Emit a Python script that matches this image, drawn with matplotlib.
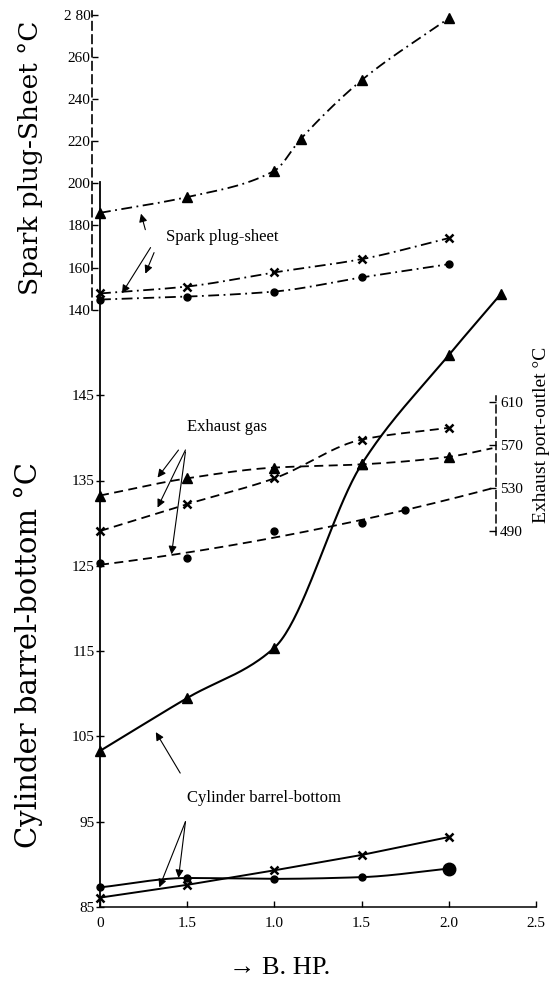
import numpy as np
import matplotlib
matplotlib.use("Agg")
import matplotlib.pyplot as plt

plt.rcParams["font.family"] = ["Liberation Serif", "DejaVu Serif"]

# B.HP tick labels as printed (the 0.5 position is printed "1.5")
X_TICKS = [0, 0.5, 1.0, 1.5, 2.0, 2.5]
X_TICK_LABELS = ["0", "1.5", "1.0", "1.5", "2.0", "2.5"]

# spark plug-sheet (left dashed scale)
SP_TRI_X = [0, 0.5, 1.0, 1.15, 1.5, 2.0]
SP_TRI_Y = [186, 193.5, 206, 221, 249, 278.5]
SP_CRS_X = [0, 0.5, 1.0, 1.5, 2.0]
SP_CRS_Y = [147.7, 151.0, 157.7, 164.0, 174.0]
SP_DOT_X = [0, 0.5, 1.0, 1.5, 2.0]
SP_DOT_Y = [144.8, 146.2, 148.6, 155.3, 161.6]
SP_TICKS = [140, 160, 180, 200, 220, 240, 260, 280]

# exhaust gas (right scale, exhaust port-outlet)
EX_TRI_X = [0, 0.5, 1.0, 1.5, 2.0]
EX_TRI_Y = [523, 539, 549, 552, 559]
EX_TRI_END = (2.25, 567)
EX_CRS_X = [0, 0.5, 1.0, 1.5, 2.0]
EX_CRS_Y = [490, 515, 539, 575, 586]
EX_DOT_X = [0, 0.5, 1.0, 1.5, 1.75]
EX_DOT_Y = [460, 465, 490, 497, 510]
EX_DOT_END = (2.25, 530)
EX_TICKS = [490, 530, 570, 610]

# cylinder barrel-bottom (left solid scale)
CY_TRI_X = [0, 0.5, 1.0, 1.5, 2.0, 2.3]
CY_TRI_Y = [103.3, 109.5, 115.4, 136.9, 149.7, 156.9]
CY_CRS_X = [0, 0.5, 1.0, 1.5, 2.0]
CY_CRS_Y = [86.1, 87.6, 89.3, 91.1, 93.2]
CY_DOT_X = [0, 0.5, 1.0, 1.5, 2.0]
CY_DOT_Y = [87.3, 88.4, 88.3, 88.5, 89.5]
CY_TICKS = [85, 95, 105, 115, 125, 135, 145]


def pchip(x, y, n=200):
    # monotone cubic through the points (hand-drawn looking curve)
    x = np.asarray(x, float)
    y = np.asarray(y, float)
    h = np.diff(x)
    d = np.diff(y) / h
    m = np.zeros_like(y)
    m[0], m[-1] = d[0], d[-1]
    for k in range(1, len(x) - 1):
        if d[k - 1] * d[k] > 0:
            w1 = 2 * h[k] + h[k - 1]
            w2 = h[k] + 2 * h[k - 1]
            m[k] = (w1 + w2) / (w1 / d[k - 1] + w2 / d[k])
    xs = np.linspace(x[0], x[-1], n)
    i = np.clip(np.searchsorted(x, xs) - 1, 0, len(x) - 2)
    t = (xs - x[i]) / h[i]
    h00 = 2 * t**3 - 3 * t**2 + 1
    h10 = t**3 - 2 * t**2 + t
    h01 = -2 * t**3 + 3 * t**2
    h11 = t**3 - t**2
    ys = h00 * y[i] + h10 * h[i] * m[i] + h01 * y[i + 1] + h11 * h[i] * m[i + 1]
    return xs, ys


DASHDOT = (0, (6, 2.5, 1, 2.5))
DASHED = (0, (5, 3))
LW = 1.3

fig = plt.figure(figsize=(5.55, 9.82), dpi=100)
rect = [100 / 555, 75 / 982, 436 / 555, 897 / 982]
ax = fig.add_axes(rect)
ax_sp = fig.add_axes(rect, sharex=ax)
ax_ex = fig.add_axes(rect, sharex=ax)
for a in (ax_sp, ax_ex):
    a.patch.set_visible(False)

ax.set_xlim(0, 2.5)
ax.set_ylim(85, 85 + 897 / 8.53)
ax_sp.set_ylim(140 - 598 / 2.107, 280 + 5 / 2.107)
ax_ex.set_ylim(490 - 376 / 1.075, 610 + 392 / 1.075)

# cylinder axes: left solid + bottom
for s in ("top", "right"):
    ax.spines[s].set_visible(False)
ax.spines["left"].set_bounds(85, 170)
ax.spines["bottom"].set_bounds(0, 2.5)
ax.spines["left"].set_linewidth(1.3)
ax.spines["bottom"].set_linewidth(1.1)
ax.set_yticks(CY_TICKS)
ax.set_yticklabels([str(t) for t in CY_TICKS])
ax.set_xticks(X_TICKS)
ax.set_xticklabels(X_TICK_LABELS)
ax.tick_params(axis="y", direction="inout", length=6, width=1, labelsize=11, pad=1)
ax.tick_params(axis="x", direction="in", length=4, width=1, labelsize=11, pad=7)

# spark axes: dashed left scale
for s in ("top", "right", "bottom"):
    ax_sp.spines[s].set_visible(False)
ax_sp.spines["left"].set_position(("outward", 6))
ax_sp.spines["left"].set_bounds(140, 282)
ax_sp.spines["left"].set_linestyle((0, (5, 3)))
ax_sp.spines["left"].set_linewidth(1.2)
ax_sp.set_yticks(SP_TICKS)
ax_sp.set_yticklabels(["2 80" if t == 280 else str(t) for t in SP_TICKS])
ax_sp.tick_params(axis="y", direction="in", length=4, width=1, labelsize=11, pad=1)
ax_sp.tick_params(axis="x", bottom=False, labelbottom=False)

# exhaust axes: dashed right scale
for s in ("top", "left", "bottom"):
    ax_ex.spines[s].set_visible(False)
ax_ex.spines["right"].set_position(("data", 2.27))
ax_ex.spines["right"].set_bounds(486, 616)
ax_ex.spines["right"].set_linestyle((0, (5, 3)))
ax_ex.spines["right"].set_linewidth(1.1)
ax_ex.yaxis.set_ticks_position("right")
ax_ex.set_yticks(EX_TICKS)
ax_ex.tick_params(axis="y", direction="in", length=5, width=1, labelsize=11, pad=3)
ax_ex.tick_params(axis="x", bottom=False, labelbottom=False)

# spark plug-sheet curves
for xs, ys in [(SP_TRI_X, SP_TRI_Y), (SP_CRS_X, SP_CRS_Y), (SP_DOT_X, SP_DOT_Y)]:
    cx, cy = pchip(xs, ys)
    ax_sp.plot(cx, cy, color="black", lw=LW, ls=DASHDOT, clip_on=False)
ax_sp.plot(SP_TRI_X, SP_TRI_Y, "^", color="black", ms=6.5, ls="none", clip_on=False)
ax_sp.plot(SP_CRS_X, SP_CRS_Y, "x", color="black", ms=6, mew=1.8, ls="none", clip_on=False)
ax_sp.plot(SP_DOT_X, SP_DOT_Y, "o", color="black", ms=5, ls="none", clip_on=False)

# exhaust gas curves
cx, cy = pchip(EX_TRI_X + [EX_TRI_END[0]], EX_TRI_Y + [EX_TRI_END[1]])
ax_ex.plot(cx, cy, color="black", lw=LW, ls=DASHED)
cx, cy = pchip(EX_CRS_X, EX_CRS_Y)
ax_ex.plot(cx, cy, color="black", lw=LW, ls=DASHED)
fit = np.polyfit(EX_DOT_X + [EX_DOT_END[0]], EX_DOT_Y + [EX_DOT_END[1]], 2)
cx = np.linspace(0, EX_DOT_END[0], 200)
ax_ex.plot(cx, np.polyval(fit, cx), color="black", lw=LW, ls=DASHED)
ax_ex.plot(EX_TRI_X, EX_TRI_Y, "^", color="black", ms=6.5, ls="none", clip_on=False)
ax_ex.plot(EX_CRS_X, EX_CRS_Y, "x", color="black", ms=6, mew=1.8, ls="none", clip_on=False)
ax_ex.plot(EX_DOT_X, EX_DOT_Y, "o", color="black", ms=5, ls="none", clip_on=False)

# cylinder barrel-bottom curves
cx, cy = pchip(CY_TRI_X, CY_TRI_Y)
ax.plot(cx, cy, color="black", lw=1.5)
ax.plot(CY_CRS_X, CY_CRS_Y, color="black", lw=1.4)
cx, cy = pchip(CY_DOT_X, CY_DOT_Y)
ax.plot(cx, cy, color="black", lw=1.4)
ax.plot(CY_TRI_X, CY_TRI_Y, "^", color="black", ms=6.5, ls="none", clip_on=False)
ax.plot(CY_CRS_X, CY_CRS_Y, "x", color="black", ms=6, mew=1.8, ls="none", clip_on=False)
ax.plot(CY_DOT_X, CY_DOT_Y, "o", color="black", ms=5, ls="none", clip_on=False)
ax.plot(CY_DOT_X[-1], CY_DOT_Y[-1], "o", color="black", ms=9, clip_on=False)

# annotations
arrow = dict(arrowstyle="-|>", color="black", lw=0.8,
             mutation_scale=12, shrinkA=0, shrinkB=0)
ax_sp.text(0.38, 174.4, "Spark plug-sheet", fontsize=12, va="center", ha="left")
for tail, head in [((0.26, 178), (0.235, 185.6)),
                   ((0.29, 169.5), (0.126, 147.8)),
                   ((0.31, 167.1), (0.26, 157.1))]:
    ax_sp.annotate("", xy=head, xytext=tail, arrowprops=arrow)

ax_ex.text(0.5, 587, "Exhaust gas", fontsize=12, va="center", ha="left")
for tail, head in [((0.45, 565.3), (0.33, 539.7)),
                   ((0.49, 565.4), (0.33, 511.8)),
                   ((0.49, 563.6), (0.41, 468.3))]:
    ax_ex.annotate("", xy=head, xytext=tail, arrowprops=arrow)

ax.text(0.5, 97.8, "Cylinder barrel-bottom", fontsize=12, va="center", ha="left")
for tail, head in [((0.46, 100.7), (0.32, 105.5)),
                   ((0.49, 95.0), (0.34, 87.3)),
                   ((0.49, 95.0), (0.45, 88.4))]:
    ax.annotate("", xy=head, xytext=tail, arrowprops=arrow)

# axis titles
fig.text(30 / 555, 1 - 158 / 982, "Spark plug-Sheet °C", rotation=90,
         fontsize=19, ha="center", va="center", family=["DejaVu Serif"])
fig.text(28 / 555, 1 - 655 / 982, "Cylinder barrel-bottom °C", rotation=90,
         fontsize=21, ha="center", va="center", family=["DejaVu Serif"])
fig.text(541 / 555, 1 - 435 / 982, "Exhaust port-outlet °C", rotation=90,
         fontsize=14, ha="center", va="center")
fig.text(280 / 555, 1 - 968 / 982, "→ B. HP.", fontsize=19, ha="center", va="center")

fig.savefig("out.png", dpi=100)
